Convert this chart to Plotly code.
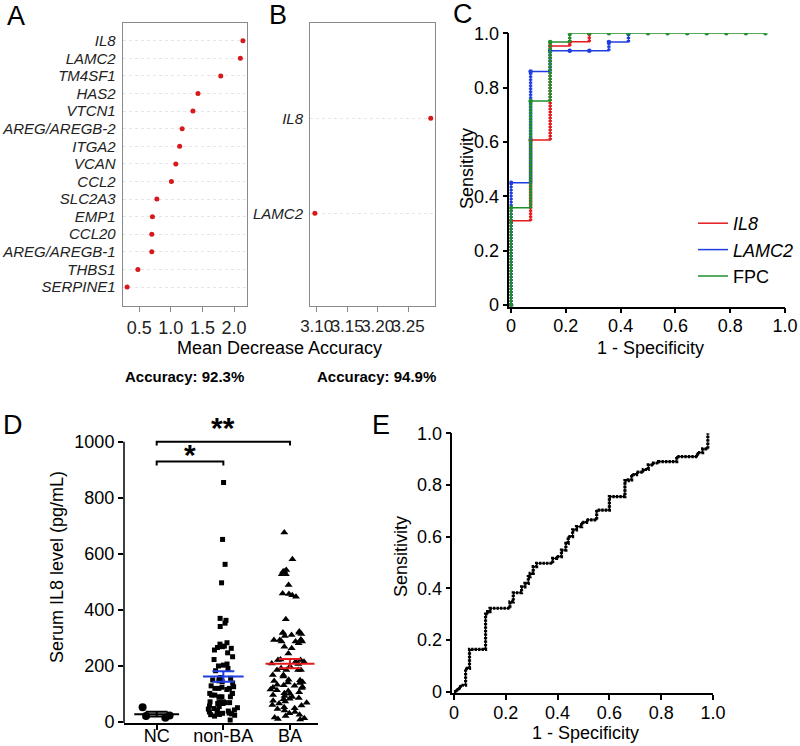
import numpy as np
import plotly.graph_objects as go

W, H = 800, 746
FONT = "Liberation Sans, Arial, Helvetica, sans-serif"

# ---------------- Panel A: random-forest importance (15 genes) ----------------
genes_a = ["IL8", "LAMC2", "TM4SF1", "HAS2", "VTCN1", "AREG/AREGB-2", "ITGA2", "VCAN",
           "CCL2", "SLC2A3", "EMP1", "CCL20", "AREG/AREGB-1", "THBS1", "SERPINE1"]
mda_a = [2.14, 2.10, 1.79, 1.43, 1.35, 1.18, 1.14, 1.08, 1.01, 0.78, 0.71, 0.70, 0.70, 0.48, 0.31]
ticks_a = [0.5, 1.0, 1.5, 2.0]
ticktext_a = ["0.5", "1.0", "1.5", "2.0"]
accuracy_a = "Accuracy: 92.3%"

# ---------------- Panel B: importance (2 genes) ----------------
genes_b = ["IL8", "LAMC2"]
mda_b = [3.287, 3.097]
ticks_b = [3.10, 3.15, 3.20, 3.25]
ticktext_b = ["3.10", "3.15", "3.20", "3.25"]
accuracy_b = "Accuracy: 94.9%"

# ---------------- Panel C: ROC curves ----------------
il8_fpr = [0, 0, 0.0714, 0.1429, 0.2143, 0.2857]
il8_tpr = [0, 0.310, 0.607, 0.953, 0.969, 1.0]
lamc2_fpr = [0, 0, 0.0714, 0.1429, 0.2143, 0.2857, 0.3571, 0.4286]
lamc2_tpr = [0, 0.450, 0.859, 0.936, 0.936, 0.936, 0.968, 1.0]
fpc_fpr = [0, 0, 0.0714, 0.1429, 0.2143, 0.2857, 0.3571, 0.4286, 0.5, 0.5714, 0.6429,
           0.7143, 0.7857, 0.8571, 0.9286]
fpc_tpr = [0, 0.358, 0.751, 0.968, 1, 1, 1, 1, 1, 1, 1, 1, 1, 1, 1]
roc_ticks = [0, 0.2, 0.4, 0.6, 0.8, 1.0]
roc_ticktext = ["0", "0.2", "0.4", "0.6", "0.8", "1.0"]

# ---------------- Panel D: serum IL8 levels ----------------
groups_d = ["NC", "non-BA", "BA"]
nc_vals = [52, 22, 14, 20]
nonba_vals = [854, 651, 562, 496, 369, 362, 352, 340, 282, 277, 270, 268, 265, 262, 256, 246,
              232, 222, 206, 202, 199, 190, 182, 158, 155, 155, 149, 146, 143, 138, 128, 125,
              123, 119, 119, 119, 115, 101, 101, 101, 95, 95, 89, 89, 89, 71, 71, 71, 68, 68,
              65, 65, 56, 54, 50, 47, 45, 42, 40, 38, 35, 33, 31, 30, 28, 26, 25, 23, 20, 6]
ba_vals = [676, 580, 542, 536, 536, 527, 527, 488, 458, 456, 452, 446, 366, 322, 318, 318,
           318, 313, 310, 306, 294, 292, 292, 286, 286, 286, 280, 268, 262, 244, 222, 220,
           220, 214, 214, 208, 206, 197, 191, 185, 185, 185, 185, 167, 167, 161,
           150, 148, 145, 142, 140, 138, 132, 130, 128, 125, 122, 120, 115, 112, 110, 105,
           102, 100, 95, 92, 88, 85, 82, 80, 75, 72, 68, 65, 60, 58, 52, 48, 45, 40, 35, 30,
           25, 20, 15, 12, 10, 8]
d_ticks = [0, 200, 400, 600, 800, 1000]
sig_brackets = [("NC", "non-BA", 929, "*"), ("NC", "BA", 1000, "**")]

# ---------------- Panel E: ROC of serum IL8 ----------------
e_fpr = [0, 0.012, 0.025, 0.045, 0.060, 0.122, 0.130, 0.139, 0.216, 0.229, 0.261, 0.274,
         0.287, 0.294, 0.306, 0.319, 0.381, 0.396, 0.415, 0.432, 0.441, 0.458, 0.473, 0.493,
         0.512, 0.551, 0.600, 0.660, 0.673, 0.686, 0.705, 0.731, 0.750, 0.770, 0.790, 0.860,
         0.940, 0.960, 0.980]
e_tpr = [0, 0.012, 0.025, 0.090, 0.164, 0.300, 0.310, 0.323, 0.348, 0.383, 0.406, 0.419,
         0.445, 0.458, 0.484, 0.497, 0.516, 0.523, 0.548, 0.574, 0.600, 0.626, 0.639, 0.655,
         0.665, 0.703, 0.755, 0.817, 0.820, 0.840, 0.850, 0.860, 0.878, 0.885, 0.890, 0.910,
         0.925, 0.940, 1.000]

RED = "#e41a1c"
BLUE = "#1f3ee0"
GREEN = "#1f8f2e"
DOT_RED = "#d7191c"
BOXGRAY = "#8a8a8a"


def px_x(p):
    return p / W


def px_y(p):
    return 1 - p / H


def vertical_runs(fpr, tpr):
    xs, ys = [], []
    for i in range(1, len(fpr)):
        if tpr[i] > tpr[i - 1]:
            xs += [fpr[i], fpr[i], None]
            ys += [tpr[i - 1], tpr[i], None]
    return xs, ys


fig = go.Figure()

# A
fig.add_trace(go.Scatter(x=mda_a, y=genes_a, mode="markers", xaxis="x", yaxis="y",
                         marker=dict(color=DOT_RED, size=5), showlegend=False, hoverinfo="skip"))
# B
fig.add_trace(go.Scatter(x=mda_b, y=genes_b, mode="markers", xaxis="x2", yaxis="y2",
                         marker=dict(color=DOT_RED, size=5), showlegend=False, hoverinfo="skip"))

# C
for name, fpr, tpr, col in [("<i>IL8</i>", il8_fpr, il8_tpr, RED),
                            ("<i>LAMC2</i>", lamc2_fpr, lamc2_tpr, BLUE),
                            ("FPC", fpc_fpr, fpc_tpr, GREEN)]:
    fig.add_trace(go.Scatter(x=fpr, y=tpr, mode="lines", line=dict(shape="hv", width=1.5, color=col),
                             name=name, legendgroup=name, xaxis="x3", yaxis="y3", hoverinfo="skip"))
    vx, vy = vertical_runs(fpr, tpr)
    fig.add_trace(go.Scatter(x=vx, y=vy, mode="lines", line=dict(width=3.4, color=col, dash="2px,1px"),
                             showlegend=False, xaxis="x3", yaxis="y3", hoverinfo="skip"))
    fig.add_trace(go.Scatter(x=fpr, y=tpr, mode="markers", marker=dict(size=4.5, color=col),
                             showlegend=False, xaxis="x3", yaxis="y3", hoverinfo="skip"))

# D
for cat, vals, sym, size, wid in [("NC", nc_vals, "circle", 8, 0.5),
                                  ("non-BA", nonba_vals, "square", 5, 0.6),
                                  ("BA", ba_vals, "triangle-up", 7, 0.65)]:
    fig.add_trace(go.Box(x=[cat] * len(vals), y=vals, boxpoints="all", jitter=1, pointpos=0,
                         width=wid, marker=dict(symbol=sym, size=size, color="black"),
                         line=dict(width=0, color="rgba(0,0,0,0)"), fillcolor="rgba(0,0,0,0)",
                         whiskerwidth=0, showlegend=False, xaxis="x4", yaxis="y4", hoverinfo="skip"))
for cat, vals, col, msize in [("NC", nc_vals, "black", 32), ("non-BA", nonba_vals, BLUE, 29),
                              ("BA", ba_vals, RED, 35)]:
    arr = np.array(vals, dtype=float)
    mean = arr.mean()
    sem = arr.std(ddof=1) / np.sqrt(len(arr))
    fig.add_trace(go.Scatter(x=[cat], y=[mean], mode="markers",
                             marker=dict(symbol="line-ew", size=msize, color=col,
                                         line=dict(width=2, color=col)),
                             error_y=dict(type="data", array=[sem], color=col, thickness=2, width=11),
                             showlegend=False, xaxis="x4", yaxis="y4", hoverinfo="skip"))
for g0, g1, lvl, lab in sig_brackets:
    fig.add_trace(go.Scatter(x=[g0, g0, g1, g1], y=[lvl - 14, lvl, lvl, lvl - 14], mode="lines",
                             line=dict(color="black", width=2), showlegend=False,
                             xaxis="x4", yaxis="y4", hoverinfo="skip"))

# E
fig.add_trace(go.Scatter(x=e_fpr, y=e_tpr, mode="lines", line=dict(shape="hv", width=1.2, color="black"),
                         showlegend=False, xaxis="x5", yaxis="y5", hoverinfo="skip"))
fig.add_trace(go.Scatter(x=e_fpr, y=e_tpr, mode="lines",
                         line=dict(shape="hv", width=3.2, color="black", dash="2.4px,1.1px"),
                         showlegend=False, xaxis="x5", yaxis="y5", hoverinfo="skip"))

tickfont18 = dict(family=FONT, size=18, color="black")

box_axis = dict(showline=True, mirror=True, linecolor=BOXGRAY, linewidth=1, zeroline=False,
                automargin=False)
roc_common = dict(range=[-0.006, 1.0], tickvals=roc_ticks, ticktext=roc_ticktext, ticks="outside",
                  ticklen=5, tickwidth=1.5, tickcolor="black", showline=True, linecolor="black",
                  linewidth=1.5, showgrid=False, zeroline=False, layer="below traces",
                  tickfont=tickfont18, tickangle=0, automargin=False)
roc_x = dict(roc_common, ticklabelstandoff=-3)
roc_y = dict(roc_common)

layout = dict(
    width=W, height=H, margin=dict(l=0, r=0, t=0, b=0, autoexpand=False),
    paper_bgcolor="white", plot_bgcolor="rgba(0,0,0,0)",
    font=dict(family=FONT, size=18, color="black"),
    hovermode=False,
    xaxis=dict(domain=[px_x(122.7), px_x(246.7)], anchor="y", range=[0.24, 2.2],
               tickvals=ticks_a, ticktext=ticktext_a, ticks="outside", ticklen=5, tickcolor=BOXGRAY,
               showgrid=False, tickangle=0, tickfont=dict(family=FONT, size=18, color="#222"),
               **box_axis),
    yaxis=dict(domain=[px_y(306), px_y(23)], anchor="x", type="category", categoryorder="array",
               categoryarray=genes_a, range=[15.08, -1.01], tickvals=genes_a,
               ticktext=["<i>%s</i>" % g for g in genes_a], ticks="", showgrid=True,
               gridcolor="#e6e6e6", griddash="dot", gridwidth=1, ticklabelstandoff=3,
               tickfont=dict(family=FONT, size=15, color="#222"), **box_axis),
    xaxis2=dict(domain=[px_x(310), px_x(435)], anchor="y2", range=[3.089, 3.294],
                tickvals=ticks_b, ticktext=ticktext_b, ticks="outside", ticklen=5, tickcolor=BOXGRAY,
                showgrid=False, tickangle=0, tickfont=dict(family=FONT, size=17, color="#222"),
                **box_axis),
    yaxis2=dict(domain=[px_y(306), px_y(23)], anchor="x2", type="category", categoryorder="array",
                categoryarray=genes_b, range=[1.976, -1.003], tickvals=genes_b,
                ticktext=["<i>%s</i>" % g for g in genes_b], ticks="", showgrid=True,
                gridcolor="#e6e6e6", griddash="dot", gridwidth=1, ticklabelstandoff=3,
                tickfont=dict(family=FONT, size=15, color="#222"), **box_axis),
    xaxis3=dict(domain=[px_x(509.4), px_x(785)], anchor="y3", **roc_x),
    yaxis3=dict(domain=[px_y(306.6), px_y(33.3)], anchor="x3", **roc_y),
    xaxis4=dict(domain=[px_x(124), px_x(318)], anchor="y4", type="category", categoryorder="array",
                categoryarray=groups_d, range=[-0.4905, 2.42], ticks="outside", ticklen=5,
                tickwidth=1.5, tickcolor="black", showline=True, linecolor="black", linewidth=1.5,
                showgrid=False, zeroline=False, tickfont=tickfont18, tickangle=0, automargin=False,
                ticklabelstandoff=-9),
    yaxis4=dict(domain=[px_y(723.1), px_y(419.3)], anchor="x4", range=[-5, 1080], tickvals=d_ticks,
                ticktext=[str(v) for v in d_ticks], ticks="outside", ticklen=5, tickwidth=1.5,
                tickcolor="black", showline=False, showgrid=False, zeroline=False,
                tickfont=tickfont18, automargin=False),
    xaxis5=dict(domain=[px_x(452.4), px_x(713)], anchor="y5", **roc_x),
    yaxis5=dict(domain=[px_y(693.25), px_y(433.3)], anchor="x5", **roc_y),
    legend=dict(x=px_x(693), y=px_y(205), xanchor="left", yanchor="top", bgcolor="rgba(0,0,0,0)",
                font=dict(family=FONT, size=18, color="black"), tracegroupgap=0),
    shapes=[dict(type="line", xref="x4 domain", x0=0, x1=0, yref="y4", y0=-5, y1=1000,
                 line=dict(color="black", width=1.5))],
)
fig.update_layout(**layout)

ann = []


def text_ann(txt, x, y, size=18, angle=0, bold=False):
    ann.append(dict(text=("<b>%s</b>" % txt) if bold else txt, x=px_x(x), y=px_y(y), xref="paper",
                    yref="paper", xanchor="center", yanchor="middle", showarrow=False,
                    textangle=angle, font=dict(family=FONT, size=size, color="black")))


for letter, x, y in [("A", 16, 16), ("B", 278, 15), ("C", 463, 14), ("D", 13, 425), ("E", 381, 425)]:
    text_ann(letter, x, y, size=27)
text_ann("Mean Decrease Accuracy", 279.5, 348, 18)
text_ann(accuracy_a, 184, 376, 15, bold=True)
text_ann(accuracy_b, 376, 376, 15, bold=True)
text_ann("1 - Specificity", 650, 348, 18)
text_ann("Sensitivity", 467, 169, 18, angle=-90)
text_ann("Serum IL8 level (pg/mL)", 57, 567, 18, angle=-90)
text_ann("1 - Specificity", 585, 733, 18)
text_ann("Sensitivity", 401, 557, 18, angle=-90)

cat_index = {g: i for i, g in enumerate(groups_d)}
star_y = {"*": 964, "**": 1060}
for g0, g1, lvl, lab in sig_brackets:
    ann.append(dict(text="<b>%s</b>" % lab, x=(cat_index[g0] + cat_index[g1]) / 2, y=star_y[lab],
                    xref="x4", yref="y4", xanchor="center", yanchor="middle", yshift=-3,
                    showarrow=False, font=dict(family=FONT, size=30, color="black")))

fig.update_layout(annotations=ann)
fig.write_html("out.html", config={"displayModeBar": False},
               post_script="document.body.style.margin='0px';document.body.style.overflow='hidden';")
